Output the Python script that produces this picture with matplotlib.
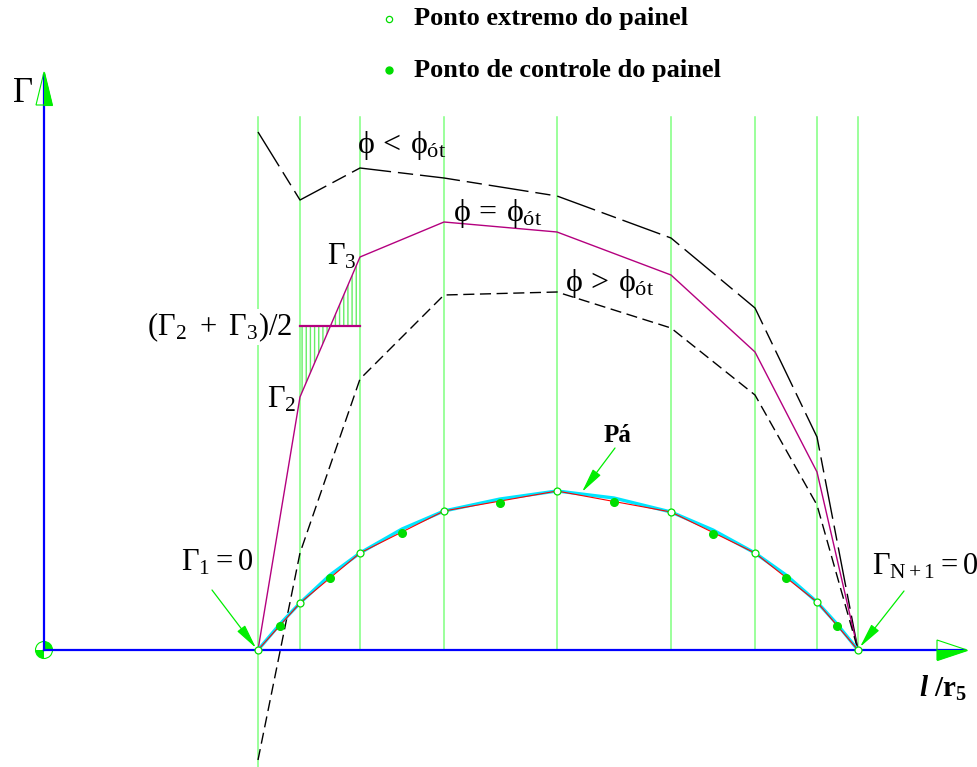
import numpy as np
import matplotlib.pyplot as plt
from matplotlib.patches import Circle, Wedge, Polygon

plt.rcParams['mathtext.fontset'] = 'custom'
plt.rcParams['mathtext.rm'] = 'Liberation Serif'
plt.rcParams['mathtext.it'] = 'Liberation Serif'
plt.rcParams['mathtext.bf'] = 'Liberation Serif:bold'
plt.rcParams['mathtext.bfit'] = 'Liberation Serif:bold:italic'
plt.rcParams['font.family'] = ['Liberation Serif', 'DejaVu Serif']
plt.rcParams['lines.scale_dashes'] = False
plt.rcParams['hatch.linewidth'] = 1.0
plt.rcParams['hatch.color'] = '#66ee66'

# panel end points along l/r5 (schematic units) and blade heights
panel_x = [214, 256, 316, 400, 513, 627, 711, 773, 814]
panel_y = [0, 47, 97, 139, 159, 138, 97, 48, 0]
ctrl_x = [236, 286, 358, 456, 570, 669, 742, 793]
ctrl_y = [24, 72, 117, 147, 148, 116, 72, 24]
blade_x = [214, 236, 256, 286, 316, 358, 400, 456, 513, 570, 627, 669, 711, 742, 773, 793, 814]
blade_y = [0, 26, 47, 75, 97, 121, 139, 151, 159, 152, 138, 120, 97, 75, 48, 26, 0]

# circulation distributions
gamma_lt = [518, 450, 482, 472, 454, 412, 342, 213, 0]
gamma_opt = [0, 253, 393, 428, 418, 375, 298, 178, 0]
gamma_gt = [-110, 97, 271, 355, 358, 322, 255, 145, 0]
gamma_avg = 324

green = '#80ff80'
arrow_green = '#00ee00'

fig = plt.figure(figsize=(9.78, 7.67), dpi=100)
ax = fig.add_axes([0, 0, 1, 1])
ax.set_xlim(-44, 934)
ax.set_ylim(-117, 650)
ax.axis('off')

# panel lines
for i, x in enumerate(panel_x):
    bottom = -117 if i == 0 else 0
    ax.plot([x, x], [bottom, 533], color=green, lw=1.1, zorder=1)

# hatched area between gamma_2..gamma_3 and their average
ax.fill_between(panel_x[1:3], gamma_opt[1:3], gamma_avg, facecolor='none',
                edgecolor='#66ee66', hatch='||||', lw=0, zorder=2)
ax.plot(panel_x[1:3], [gamma_avg, gamma_avg], color='#b4007f', lw=1.6, zorder=3)

ax.plot(panel_x, gamma_lt, color='black', lw=1.0, dashes=(29, 5, 11, 5), zorder=3)
ax.plot(panel_x, gamma_opt, color='#b4007f', lw=1.0, zorder=3)
ax.plot(panel_x, gamma_gt, color='black', lw=1.0, dashes=(8, 4), zorder=3)

# blade
ax.plot(blade_x, blade_y, color='#00e5ff', lw=2.4, zorder=4)
ax.plot(panel_x, panel_y, color='red', lw=0.8, zorder=5)
ax.plot(ctrl_x, ctrl_y, 'o', color='#00dd00', ms=5.5, zorder=6)
ax.plot(panel_x, panel_y, 'o', mfc='white', mec='#00dd00', mew=0.9, ms=5, zorder=6)

# axes
ax.plot([0, 0], [0, 575], color='blue', lw=1.6, zorder=5)
ax.plot([0, 921], [0, 0], color='blue', lw=1.6, zorder=5)
ax.add_patch(Polygon([[0, 578], [-8, 545], [8, 545]], closed=True, fill=False,
                     ec=arrow_green, lw=0.8, zorder=6))
ax.add_patch(Polygon([[0, 578], [0, 545], [8, 545]], closed=True, fc=arrow_green,
                     ec=arrow_green, lw=0.8, zorder=6))
ax.add_patch(Polygon([[923, 0], [893, 10], [893, -10]], closed=True, fill=False,
                     ec=arrow_green, lw=0.8, zorder=6))
ax.add_patch(Polygon([[923, 0], [893, 0], [893, -10]], closed=True, fc=arrow_green,
                     ec=arrow_green, lw=0.8, zorder=6))
ax.add_patch(Wedge((0, 0), 8.5, 0, 90, fc=arrow_green, ec='none', zorder=4))
ax.add_patch(Wedge((0, 0), 8.5, 180, 270, fc=arrow_green, ec='none', zorder=4))
ax.add_patch(Circle((0, 0), 8.5, fill=False, ec=arrow_green, lw=0.8, zorder=4))

# arrows
aprops = dict(arrowstyle='-|>,head_length=1.5,head_width=0.3', color=arrow_green,
              lw=0.9, mutation_scale=10, shrinkA=0, shrinkB=0)
ax.annotate('', xy=(212, 2), xytext=(168, 60), arrowprops=aprops, zorder=7)
ax.annotate('', xy=(816, 3), xytext=(860, 59), arrowprops=aprops, zorder=7)
ax.annotate('', xy=(538, 158), xytext=(571, 202), arrowprops=aprops, zorder=7)

# labels
ax.text(-22, 556, r'$\Gamma$', fontsize=25, ha='center', va='center')
ax.text(313, 505, r'$\phi\,<\,\phi_{\mathrm{ót}}$', fontsize=23, ha='left', va='center')
ax.text(409, 437, r'$\phi\,=\,\phi_{\mathrm{ót}}$', fontsize=23, ha='left', va='center')
ax.text(521, 367, r'$\phi\,>\,\phi_{\mathrm{ót}}$', fontsize=23, ha='left', va='center')
ax.text(283, 393, r'$\Gamma_3$', fontsize=22, ha='left', va='center')
ax.text(249, 323, r'$(\Gamma_2\ +\ \Gamma_3)/2$', fontsize=22, ha='right', va='center',
        bbox=dict(fc='white', ec='none', pad=1), zorder=3)
ax.text(223, 250, r'$\Gamma_2$', fontsize=22, ha='left', va='center')
ax.text(137, 87, r'$\Gamma_1 = 0$', fontsize=22, ha='left', va='center')
ax.text(828, 83, r'$\Gamma_{\mathrm{N+1}} = 0$', fontsize=22, ha='left', va='center')
ax.text(573, 214, 'Pá', fontsize=18, fontweight='bold', ha='center', va='center')
ax.text(923, -38, r'$\mathbfit{l}\ \mathbf{/r_5}$', fontsize=21, ha='right', va='center')

# legend
ax.plot([345], [631], 'o', mfc='white', mec='#00dd00', mew=0.9, ms=4.5)
ax.plot([345], [580], 'o', color='#00dd00', ms=5)
ax.text(370, 631, 'Ponto extremo do painel', fontsize=19, fontweight='bold', va='center')
ax.text(370, 579, 'Ponto de controle do painel', fontsize=19, fontweight='bold', va='center')

fig.savefig('out.png', dpi=100)
